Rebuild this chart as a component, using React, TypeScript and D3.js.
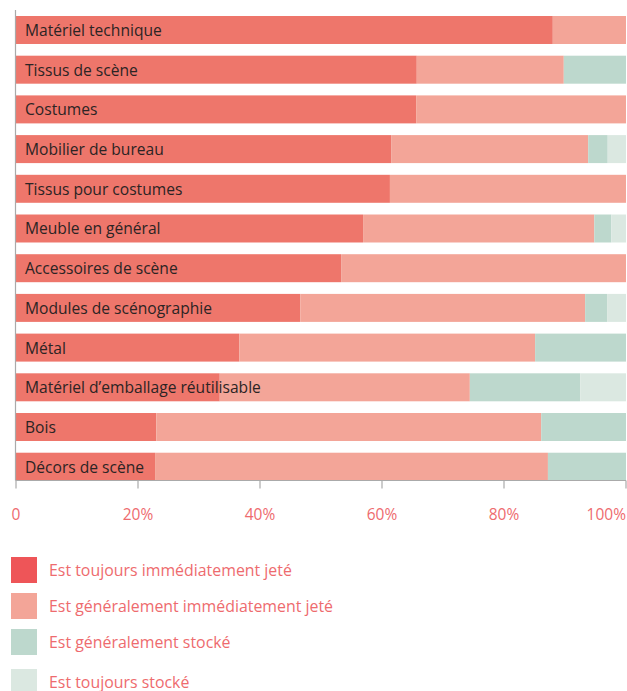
import React from "react";
import * as d3 from "d3";

const categories = [
  "Matériel technique",
  "Tissus de scène",
  "Costumes",
  "Mobilier de bureau",
  "Tissus pour costumes",
  "Meuble en général",
  "Accessoires de scène",
  "Modules de scénographie",
  "Métal",
  "Matériel d’emballage réutilisable",
  "Bois",
  "Décors de scène",
];

const toujoursJete = [88.0, 65.7, 65.6, 61.5, 61.3, 56.9, 53.3, 46.6, 36.6, 33.4, 23.0, 22.8];
const generalementJete = [12.0, 24.1, 34.4, 32.3, 38.7, 37.9, 46.7, 46.7, 48.5, 41.0, 63.1, 64.4];
const generalementStocke = [0, 10.2, 0, 3.2, 0, 2.8, 0, 3.6, 14.9, 18.1, 13.9, 12.8];
const toujoursStocke = [0, 0, 0, 3.0, 0, 2.4, 0, 3.1, 0, 7.5, 0, 0];

const seriesNames = [
  "Est toujours immédiatement jeté",
  "Est généralement immédiatement jeté",
  "Est généralement stocké",
  "Est toujours stocké",
];
const barColors = ["#EE766B", "#F3A598", "#BDD8CD", "#DBE8E1"];
const legendColors = ["#EE5558", "#F3A598", "#BDD8CD", "#DBE8E1"];
const tickValues = [0, 20, 40, 60, 80, 100];
const tickLabels = ["0", "20%", "40%", "60%", "80%", "100%"];

export default function App() {
  const W = 627;
  const H = 691;
  const x = d3.scaleLinear().domain([0, 100]).range([16, 626]);
  const y = d3.scaleBand<string>().domain(categories).range([16, 480.7]).paddingInner(0.295).paddingOuter(0);
  const seriesArrays = [toujoursJete, generalementJete, generalementStocke, toujoursStocke];
  const rows = categories.map((c, i) => {
    const obj: any = { cat: c };
    seriesNames.forEach((s, k) => (obj[s] = seriesArrays[k][i]));
    return obj;
  });
  const stacked = d3.stack<any>().keys(seriesNames)(rows);
  const axisY = 480.5;
  const font = "'Open Sans', sans-serif";
  const legendY = [557, 593, 629, 669];

  return (
    <svg width={W} height={H} style={{ position: "absolute", left: 0, top: 0 }}>
      {stacked.map((layer, k) => (
        <g key={k} fill={barColors[k]}>
          {layer.map((d, i) => {
            const w = x(d[1]) - x(d[0]);
            if (w <= 0) return null;
            return (
              <rect
                key={i}
                x={x(d[0])}
                y={y(categories[i])}
                width={w}
                height={y.bandwidth()}
              />
            );
          })}
        </g>
      ))}
      {categories.map((c) => (
        <text
          key={c}
          x={25}
          y={(y(c) as number) + y.bandwidth() / 2 + 6}
          fontFamily={font}
          fontSize={15.6}
          fill="#2b2424"
        >
          {c}
        </text>
      ))}
      <line x1={15.5} x2={15.5} y1={10} y2={axisY} stroke="#aaaaaa" strokeWidth={1.2} />
      <line x1={15.5} x2={626} y1={axisY} y2={axisY} stroke="#aaaaaa" strokeWidth={1.2} />
      {tickValues.map((t, i) => (
        <g key={t}>
          <line x1={x(t)} x2={x(t)} y1={axisY} y2={axisY + 8} stroke="#aaaaaa" strokeWidth={1.2} />
          <text
            x={i === tickValues.length - 1 ? 626 : x(t)}
            y={520}
            textAnchor={i === tickValues.length - 1 ? "end" : "middle"}
            fontFamily={font}
            fontSize={15.5}
            fill="#EE6B6E"
          >
            {tickLabels[i]}
          </text>
        </g>
      ))}
      {seriesNames.map((s, k) => (
        <g key={s} transform={`translate(11, ${legendY[k]})`}>
          <rect width={26} height={26} fill={legendColors[k]} />
          <text x={38} y={18.5} fontFamily={font} fontSize={15.9} fill="#EE6B6E">
            {s}
          </text>
        </g>
      ))}
    </svg>
  );
}
